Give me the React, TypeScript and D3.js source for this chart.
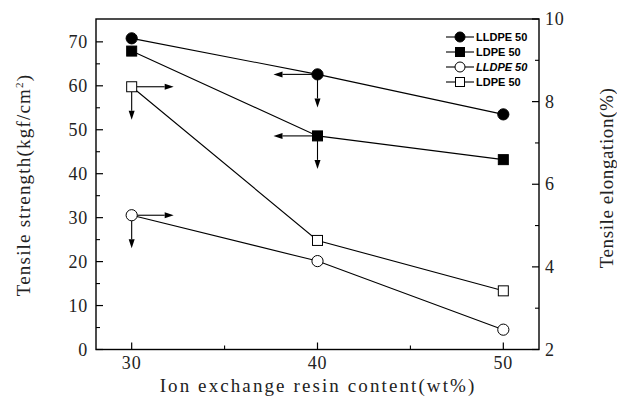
import React from "react";
import * as d3 from "d3";

// Resin content (wt%)
const contents = [30, 40, 50];

// Tensile strength (kgf/cm^2), left axis
const strengthLLDPE = [70.8, 62.6, 53.5];
const strengthLDPE = [67.9, 48.6, 43.2];

// Tensile elongation (%), right axis
const elongLLDPE = [5.25, 4.14, 2.48];
const elongLDPE = [8.36, 4.64, 3.42];

const leftTicks = [0, 10, 20, 30, 40, 50, 60, 70];
const rightTicks = [2, 4, 6, 8, 10];
const xTicks = [30, 40, 50];

const legendLabels = ["LLDPE 50", "LDPE 50", "LLDPE 50", "LDPE 50"];

const W = 617;
const H = 403;
const L = 96;
const R = 539;
const T = 19;
const B = 349.5;

const serif = "'Liberation Serif', 'DejaVu Serif', serif";
const sans = "'Liberation Sans', Arial, sans-serif";

type Marker = "circle" | "square";

function MarkerShape({ x, y, shape, filled }: { x: number; y: number; shape: Marker; filled: boolean }) {
  const fill = filled ? "#000" : "#fff";
  if (shape === "circle") {
    return <circle cx={x} cy={y} r={5.6} fill={fill} stroke="#000" strokeWidth={1} />;
  }
  return <rect x={x - 5} y={y - 5} width={10} height={10} fill={fill} stroke="#000" strokeWidth={1} />;
}

function Arrow({ x1, y1, x2, y2 }: { x1: number; y1: number; x2: number; y2: number }) {
  const ang = Math.atan2(y2 - y1, x2 - x1);
  const len = 9;
  const half = 3;
  const bx = x2 - len * Math.cos(ang);
  const by = y2 - len * Math.sin(ang);
  const px = -Math.sin(ang) * half;
  const py = Math.cos(ang) * half;
  return (
    <g>
      <line x1={x1} y1={y1} x2={bx} y2={by} stroke="#000" strokeWidth={1.1} />
      <path d={`M${x2},${y2}L${bx + px},${by + py}L${bx - px},${by - py}Z`} fill="#000" />
    </g>
  );
}

export default function App() {
  const x = d3.scaleLinear().domain([28.08, 51.92]).range([L, R]);
  const yL = d3.scaleLinear().domain([0, 75.2]).range([B, T]);
  const yR = d3.scaleLinear().domain([2, 10]).range([B, T]);

  const line = d3.line<[number, number]>().x((d) => d[0]).y((d) => d[1]);

  const series = [
    { vals: strengthLLDPE, scale: yL, shape: "circle" as Marker, filled: true },
    { vals: strengthLDPE, scale: yL, shape: "square" as Marker, filled: true },
    { vals: elongLLDPE, scale: yR, shape: "circle" as Marker, filled: false },
    { vals: elongLDPE, scale: yR, shape: "square" as Marker, filled: false },
  ];

  const leftMinor = d3.range(5, 75, 10);
  const rightMinor = d3.range(3, 10, 2);
  const xMinor = [35, 45];

  const arrows: { x1: number; y1: number; x2: number; y2: number }[] = [];
  // filled markers at 40 wt% point to the left axis
  [strengthLLDPE, strengthLDPE].forEach((v) => {
    const px = x(40);
    const py = yL(v[1]);
    arrows.push({ x1: px - 5, y1: py, x2: px - 44, y2: py });
    arrows.push({ x1: px, y1: py + 5, x2: px, y2: py + 33 });
  });
  // open markers at 30 wt% point to the right axis
  [elongLLDPE, elongLDPE].forEach((v) => {
    const px = x(30);
    const py = yR(v[0]);
    arrows.push({ x1: px + 5, y1: py, x2: px + 42, y2: py });
    arrows.push({ x1: px, y1: py + 5, x2: px, y2: py + 33 });
  });

  return (
    <svg width={W} height={H} style={{ position: "absolute", left: 0, top: 0, background: "#fff" }}>
      <rect x={0} y={0} width={W} height={H} fill="#fff" />
      {/* frame */}
      <rect x={L} y={T} width={R - L} height={B - T} fill="none" stroke="#000" strokeWidth={1.4} />

      {/* left axis ticks */}
      {leftTicks.map((t) => (
        <g key={"l" + t}>
          <line x1={L} x2={L + 7} y1={yL(t)} y2={yL(t)} stroke="#000" strokeWidth={1.2} />
          <text x={L - 8} y={yL(t) + 6} textAnchor="end" fontFamily={serif} fontSize={18} letterSpacing={0.8} fill="#222">
            {t}
          </text>
        </g>
      ))}
      {leftMinor.map((t) => (
        <line key={"lm" + t} x1={L} x2={L + 4} y1={yL(t)} y2={yL(t)} stroke="#000" strokeWidth={1.1} />
      ))}

      {/* right axis ticks */}
      {rightTicks.map((t) => (
        <g key={"r" + t}>
          <line x1={R} x2={R - 7} y1={yR(t)} y2={yR(t)} stroke="#000" strokeWidth={1.2} />
          <text x={R + 6} y={yR(t) + 6} textAnchor="start" fontFamily={serif} fontSize={18} letterSpacing={0.8} fill="#222">
            {t}
          </text>
        </g>
      ))}
      {rightMinor.map((t) => (
        <line key={"rm" + t} x1={R} x2={R - 4} y1={yR(t)} y2={yR(t)} stroke="#000" strokeWidth={1.1} />
      ))}

      {/* bottom axis ticks */}
      {xTicks.map((t) => (
        <g key={"x" + t}>
          <line x1={x(t)} x2={x(t)} y1={B} y2={B - 7} stroke="#000" strokeWidth={1.2} />
          <text x={x(t)} y={B + 19} textAnchor="middle" fontFamily={serif} fontSize={18} letterSpacing={0.8} fill="#222">
            {t}
          </text>
        </g>
      ))}
      {xMinor.map((t) => (
        <line key={"xm" + t} x1={x(t)} x2={x(t)} y1={B} y2={B - 4} stroke="#000" strokeWidth={1.1} />
      ))}

      {/* series lines */}
      {series.map((s, i) => (
        <path
          key={"p" + i}
          d={line(contents.map((c, j) => [x(c), s.scale(s.vals[j])]) as [number, number][]) || ""}
          fill="none"
          stroke="#000"
          strokeWidth={1.1}
        />
      ))}

      {/* axis-indicator arrows */}
      {arrows.map((a, i) => (
        <Arrow key={"a" + i} {...a} />
      ))}

      {/* markers */}
      {series.map((s, i) =>
        contents.map((c, j) => (
          <MarkerShape key={`m${i}-${j}`} x={x(c)} y={s.scale(s.vals[j])} shape={s.shape} filled={s.filled} />
        ))
      )}

      {/* legend */}
      {series.map((s, i) => {
        const ly = 37 + i * 15;
        return (
          <g key={"lg" + i}>
            <line x1={446} x2={474} y1={ly} y2={ly} stroke="#000" strokeWidth={1.1} />
            {s.shape === "circle" ? (
              <circle cx={460} cy={ly} r={5} fill={s.filled ? "#000" : "#fff"} stroke="#000" strokeWidth={1} />
            ) : (
              <rect x={455.5} y={ly - 4.5} width={9} height={9} fill={s.filled ? "#000" : "#fff"} stroke="#000" strokeWidth={1} />
            )}
            <text
              x={476}
              y={ly + 4}
              fontFamily={sans}
              fontSize={11}
              fontWeight="bold"
              fontStyle={i === 2 ? "italic" : "normal"}
              fill="#000"
            >
              {legendLabels[i]}
            </text>
          </g>
        );
      })}

      {/* axis titles */}
      <text
        transform={`translate(30,${185}) rotate(-90)`}
        textAnchor="middle"
        fontFamily={serif}
        fontSize={19}
        letterSpacing={1.2}
        fill="#222"
      >
        Tensile strength(kgf/cm
        <tspan dy={-7} fontSize={11}>2</tspan>
        <tspan dy={7}>)</tspan>
      </text>
      <text
        transform={`translate(613,${178}) rotate(-90)`}
        textAnchor="middle"
        fontFamily={serif}
        fontSize={19}
        letterSpacing={0.6}
        fill="#222"
      >
        Tensile elongation(%)
      </text>
      <text x={318} y={392} textAnchor="middle" fontFamily={serif} fontSize={19} letterSpacing={2.1} fill="#222">
        Ion exchange resin content(wt%)
      </text>
    </svg>
  );
}
